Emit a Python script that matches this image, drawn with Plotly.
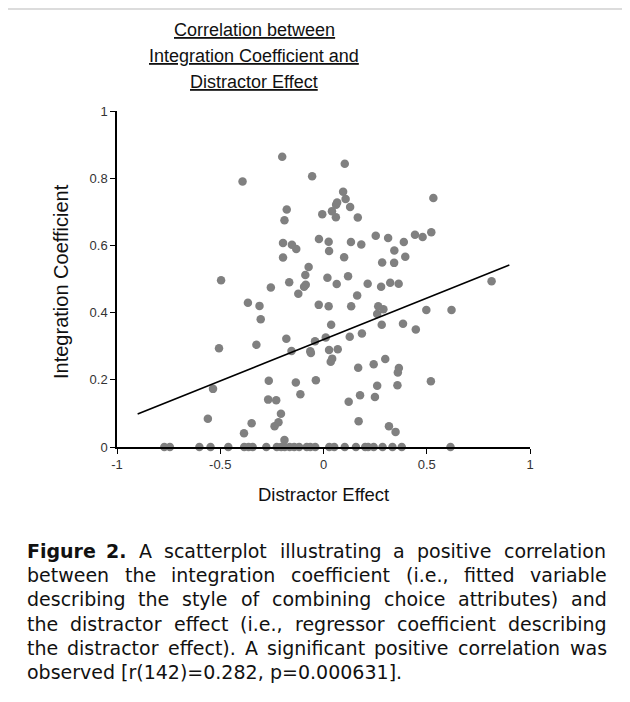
import plotly.graph_objects as go

# ---------------- data ----------------
distractor_effect = [
    -0.200, 0.103, -0.055, -0.392, 0.095, 0.107, 0.066, 0.061, 0.129, -0.178,
    0.041, -0.006, 0.060, 0.166, -0.189, 0.532, 0.522, 0.443, 0.480, 0.253,
    0.313, -0.022, -0.196, -0.153, -0.132, 0.025, 0.133, 0.183, 0.389, 0.343,
    0.027, -0.196, 0.100, 0.396, 0.284, 0.342, -0.072, -0.088, 0.019, 0.119,
    -0.496, -0.166, -0.255, -0.086, -0.094, 0.064, 0.214, 0.279, 0.323, 0.364,
    0.814, -0.122, 0.163, -0.366, -0.310, -0.304, -0.023, 0.025, 0.134, 0.265,
    0.290, 0.260, 0.498, 0.620, 0.037, 0.282, 0.385, 0.447, -0.180, -0.041,
    0.011, 0.127, 0.186, -0.506, -0.325, -0.155, -0.064, -0.061, 0.027, 0.069,
    0.042, 0.035, 0.299, 0.168, 0.243, 0.365, 0.360, -0.535, -0.265, -0.134,
    -0.037, 0.260, 0.358, 0.520, -0.112, -0.268, -0.229, 0.177, 0.249, 0.122,
    -0.560, -0.206, -0.348, -0.385, -0.237, -0.218, 0.170, 0.317, 0.349, -0.189,
    # participants with an integration coefficient of zero
    -0.771, -0.744, -0.601, -0.547, -0.461, -0.384, -0.363, -0.343, -0.277, -0.226,
    -0.205, -0.188, -0.164, -0.142, -0.118, -0.081, -0.064, -0.040, 0.028, 0.052,
    0.103, 0.157, 0.202, 0.216, 0.243, 0.286, 0.334, 0.379, 0.615,
]
integration_coefficient = [
    0.864, 0.843, 0.806, 0.790, 0.760, 0.738, 0.728, 0.721, 0.714, 0.707,
    0.702, 0.693, 0.684, 0.683, 0.675, 0.741, 0.639, 0.632, 0.625, 0.629,
    0.622, 0.619, 0.607, 0.602, 0.589, 0.611, 0.610, 0.603, 0.610, 0.585,
    0.583, 0.564, 0.565, 0.566, 0.549, 0.548, 0.536, 0.512, 0.504, 0.508,
    0.496, 0.490, 0.475, 0.483, 0.477, 0.485, 0.486, 0.477, 0.489, 0.486,
    0.493, 0.456, 0.451, 0.429, 0.420, 0.380, 0.423, 0.419, 0.419, 0.419,
    0.410, 0.396, 0.408, 0.408, 0.364, 0.364, 0.367, 0.350, 0.322, 0.315,
    0.326, 0.328, 0.338, 0.294, 0.304, 0.286, 0.285, 0.280, 0.289, 0.291,
    0.263, 0.254, 0.262, 0.236, 0.246, 0.235, 0.222, 0.173, 0.197, 0.192,
    0.199, 0.182, 0.184, 0.196, 0.157, 0.141, 0.139, 0.154, 0.149, 0.135,
    0.084, 0.099, 0.071, 0.041, 0.062, 0.074, 0.077, 0.062, 0.045, 0.021,
    0, 0, 0, 0, 0, 0, 0, 0, 0, 0,
    0, 0, 0, 0, 0, 0, 0, 0, 0, 0,
    0, 0, 0, 0, 0, 0, 0, 0, 0,
]

fit_x = [-0.9, 0.9]
fit_y = [0.098, 0.542]

x_tick_values = [-1, -0.5, 0, 0.5, 1]
x_tick_labels = ["-1", "-0.5", "0", "0.5", "1"]
y_tick_values = [0, 0.2, 0.4, 0.6, 0.8, 1]
y_tick_labels = ["0", "0.2", "0.4", "0.6", "0.8", "1"]

title_lines = ["Correlation between", "Integration Coefficient and", "Distractor Effect"]
x_title = "Distractor Effect"
y_title = "Integration Coefficient"
caption_lines = [
    "Figure 2. A scatterplot illustrating a positive correlation",
    "between the integration coefficient (i.e., fitted variable",
    "describing the style of combining choice attributes) and",
    "the distractor effect (i.e., regressor coefficient describing",
    "the distractor effect). A significant positive correlation was",
    "observed [r(142)=0.282, p=0.000631].",
]
caption_bold_words = ["Figure", "2."]

# ---------------- layout geometry ----------------
# the page body adds an 8px margin, so the figure is drawn 8px in from the top-left
OFF = 8
W, H = 630 - OFF, 702 - OFF
# plot area in reference-page pixels
PX_L, PX_R, PX_T, PX_B = 117, 530, 111, 447
ML, MR, MT, MB = PX_L - OFF, 630 - PX_R, PX_T - OFF, 702 - PX_B
PW, PH = W - ML - MR, H - MT - MB


def px_to_paper_x(px):
    return (px - PX_L) / PW


def px_to_paper_y(py):
    return (PX_B - py) / PH


AXFONT = "Liberation Sans, Arial, sans-serif"
CAPFONT = "DejaVu Sans, sans-serif"

# approximate DejaVu Sans advance widths (units per em = 2048) for justifying the caption
DV = {" ": 651, "(": 799, ")": 799, ",": 651, ".": 651, "=": 1716, "[": 799, "]": 799,
      "A": 1401, "F": 1178,
      "a": 1255, "b": 1300, "c": 1126, "d": 1300, "e": 1260, "f": 721, "g": 1300,
      "h": 1298, "i": 569, "j": 569, "k": 1186, "l": 569, "m": 1995, "n": 1298,
      "o": 1253, "p": 1300, "q": 1300, "r": 842, "s": 1067, "t": 803, "u": 1298,
      "v": 1212, "w": 1675, "x": 1212, "y": 1212, "z": 1075}


def word_width(word, size, bold=False):
    units = sum(DV.get(ch, 1303) for ch in word)
    return units / 2048 * size * (1.12 if bold else 1.0)


fig = go.Figure()
fig.add_trace(go.Scatter(
    x=distractor_effect, y=integration_coefficient, mode="markers",
    marker=dict(color="#808080", size=8.5, line=dict(width=0)),
    cliponaxis=False, showlegend=False, hoverinfo="x+y",
))
fig.add_trace(go.Scatter(
    x=fit_x, y=fit_y, mode="lines",
    line=dict(color="black", width=1.6),
    showlegend=False, hoverinfo="skip",
))

axis_common = dict(
    showline=True, linecolor="black", linewidth=1.5,
    ticks="outside", ticklen=5, tickwidth=1.2, tickcolor="black",
    showgrid=False, zeroline=False,
    tickfont=dict(family=AXFONT, size=13, color="#333333"),
)
fig.update_xaxes(range=[-1, 1], tickvals=x_tick_values, ticktext=x_tick_labels, **axis_common)
fig.update_yaxes(range=[0, 1], tickvals=y_tick_values, ticktext=y_tick_labels, **axis_common)

annotations = []
# title (three underlined lines)
for i, line in enumerate(title_lines):
    annotations.append(dict(
        text=f"<u>{line}</u>", xref="paper", yref="paper",
        x=px_to_paper_x(254), y=px_to_paper_y(30 + 26 * i),
        xanchor="center", yanchor="middle", showarrow=False,
        font=dict(family=AXFONT, size=18, color="#111111"),
    ))
# axis titles
annotations.append(dict(
    text=x_title, xref="paper", yref="paper",
    x=px_to_paper_x(323), y=px_to_paper_y(494),
    xanchor="center", yanchor="middle", showarrow=False,
    font=dict(family=AXFONT, size=18.5, color="#111111"),
))
annotations.append(dict(
    text=y_title, xref="paper", yref="paper",
    x=px_to_paper_x(61), y=px_to_paper_y(282),
    xanchor="center", yanchor="middle", showarrow=False, textangle=-90,
    font=dict(family=AXFONT, size=20, color="#111111"),
))

# caption: justified lines, one annotation per word
CAP_SIZE = 19
CAP_LEFT, CAP_RIGHT = 26, 606
for i, line in enumerate(caption_lines):
    words = line.split(" ")
    bold_flags = [(i == 0 and k < 2 and w in caption_bold_words) for k, w in enumerate(words)]
    widths = [word_width(w, CAP_SIZE, b) for w, b in zip(words, bold_flags)]
    if i < len(caption_lines) - 1:
        gap = (CAP_RIGHT - CAP_LEFT - sum(widths)) / (len(words) - 1)
    else:
        gap = DV[" "] / 2048 * CAP_SIZE
    xpos = CAP_LEFT
    for w, b, wd in zip(words, bold_flags, widths):
        annotations.append(dict(
            text=f"<b>{w}</b>" if b else w, xref="paper", yref="paper",
            x=px_to_paper_x(xpos), y=px_to_paper_y(551 + 24.2 * i),
            xanchor="left", yanchor="middle", showarrow=False, borderpad=0,
            font=dict(family=CAPFONT, size=CAP_SIZE, color="#111111"),
        ))
        xpos += wd + gap

# page shadow along the top edge (visible part)
shapes = [
    dict(type="rect", xref="paper", yref="paper", layer="below",
         x0=px_to_paper_x(OFF), x1=px_to_paper_x(630), y0=px_to_paper_y(OFF), y1=px_to_paper_y(10),
         fillcolor="#dcdcdc", line=dict(width=0)),
]

fig.update_layout(
    width=W, height=H,
    margin=dict(l=ML, r=MR, t=MT, b=MB),
    paper_bgcolor="white", plot_bgcolor="white",
    annotations=annotations, shapes=shapes,
    showlegend=False,
)

fig.write_html("out.html")
